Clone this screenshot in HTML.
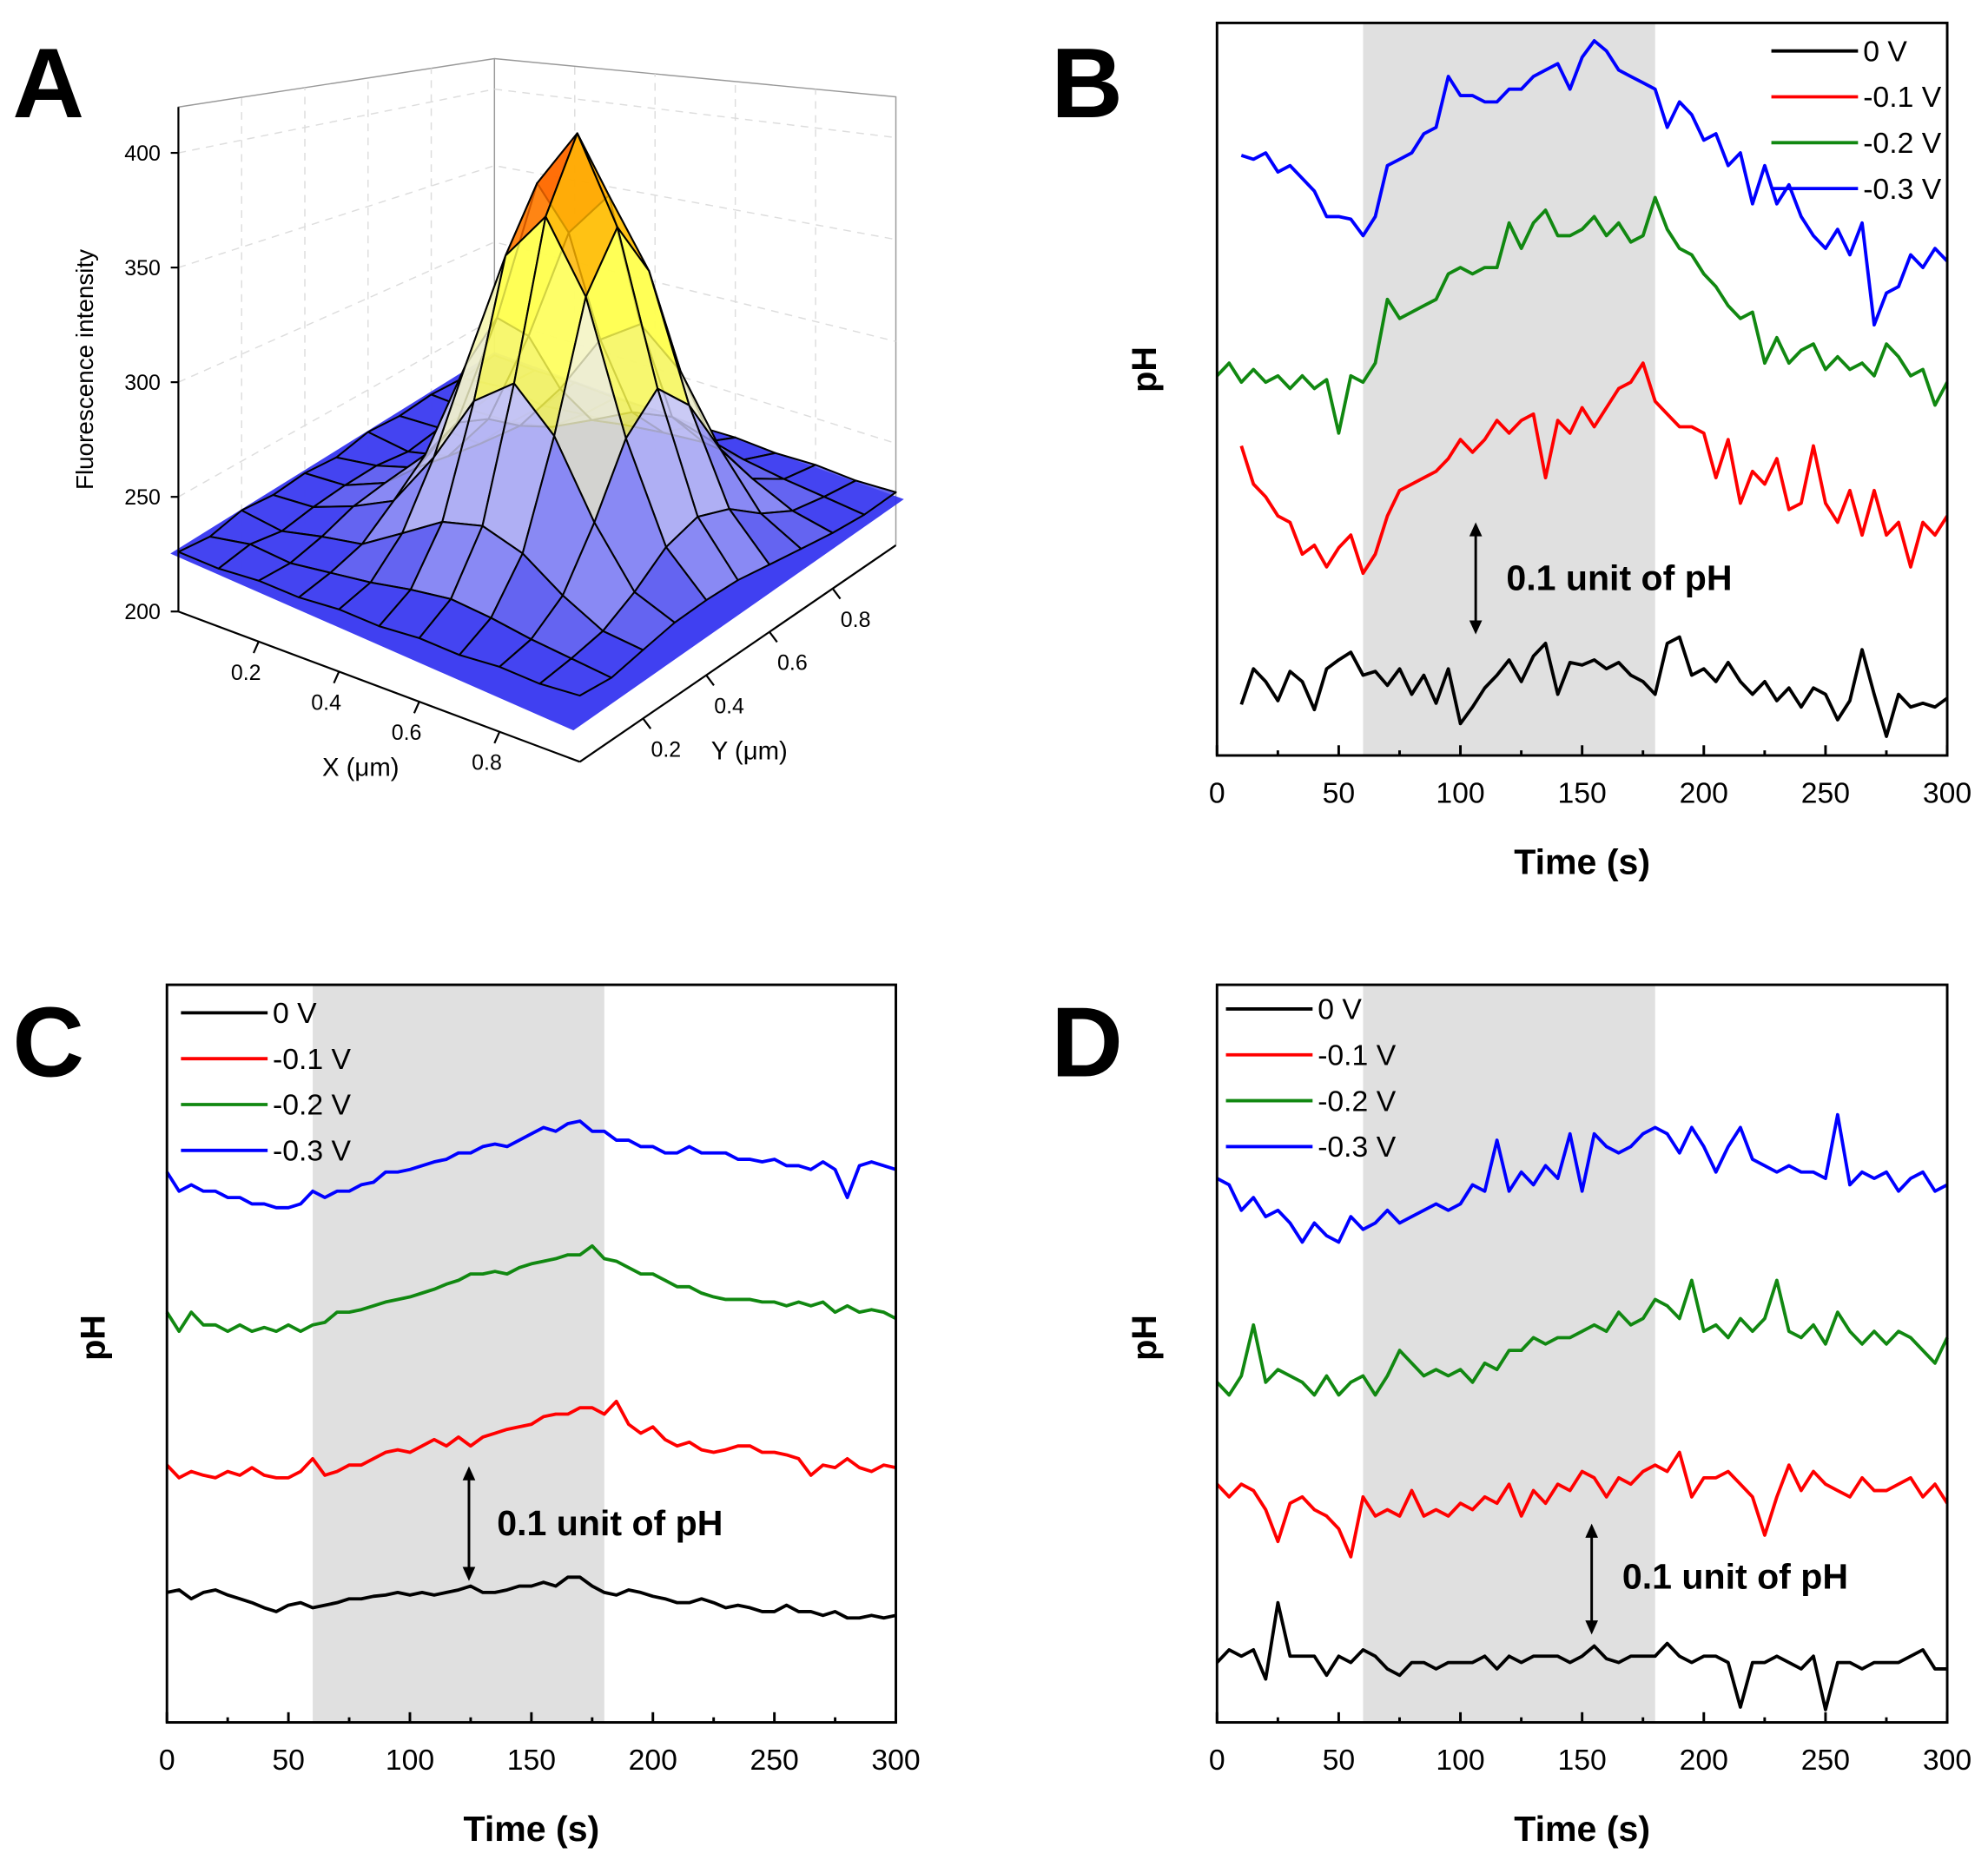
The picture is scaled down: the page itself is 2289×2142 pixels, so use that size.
<!DOCTYPE html>
<html><head><meta charset="utf-8"><style>
html,body{margin:0;padding:0;background:#fff}
svg{display:block}
text{font-family:"Liberation Sans",Arial,sans-serif}
</style></head><body>
<svg id="fig" xmlns="http://www.w3.org/2000/svg" width="2289" height="2142" viewBox="0 0 1560 1460" preserveAspectRatio="none">
<rect width="1560" height="1460" fill="#fff"/>
<text x="38" y="92" font-size="78" font-weight="bold" text-anchor="middle">A</text>
<text x="853" y="92" font-size="78" font-weight="bold" text-anchor="middle">B</text>
<text x="38" y="845" font-size="78" font-weight="bold" text-anchor="middle">C</text>
<text x="853" y="845" font-size="78" font-weight="bold" text-anchor="middle">D</text>
<g id="pA"></g>
<g id="pB"></g>
<g id="pC"></g>
<g id="pD"></g>
</svg>
<script>
// ---------- Panel data (time step 5 s, values = relative pH signal, arbitrary units) ----------
const xTicks = [0,50,100,150,200,250,300];
const seriesNames = ['0 V','-0.1 V','-0.2 V','-0.3 V'];
const seriesColors = ['#000000','#ff0000','#118811','#0000ff'];

const bStart = [10,10,0,10];
const bBlack = [40,68,58,43,66,58,36,68,75,81,63,66,55,68,48,63,41,68,25,38,53,63,75,58,78,88,48,73,71,75,68,73,63,58,48,88,93,63,68,58,73,58,48,58,43,53,38,53,48,28,43,83,48,15,48,38,41,38,45];
const bRed = [243,213,203,188,183,158,165,148,163,173,143,158,188,208,213,218,223,233,248,238,248,263,253,263,268,218,263,253,273,258,273,288,293,308,278,268,258,258,253,218,248,198,223,213,233,193,198,243,198,183,208,173,208,173,183,148,183,173,188];
const bGreen = [298,308,293,303,293,298,288,298,288,295,253,298,293,308,358,343,348,353,358,378,383,378,383,383,418,398,418,428,408,408,413,423,408,418,403,408,438,413,398,393,378,368,353,343,348,308,328,308,318,323,303,313,303,308,298,323,313,298,303,275,293];
const bBlue = [471,468,473,458,463,453,443,423,423,421,408,423,463,468,473,488,493,533,518,518,513,513,523,523,533,538,543,523,548,561,553,538,533,528,523,493,513,503,483,488,463,473,433,463,433,448,423,408,398,413,393,418,338,363,368,393,383,398,388];

const cStart = [0,0,0,0];
const cBlack = [102,104,97,102,104,100,97,94,90,87,92,94,90,92,94,97,97,99,100,102,100,102,100,102,104,107,102,102,104,107,107,110,107,114,114,107,102,100,104,102,99,97,94,94,97,94,90,92,90,87,87,92,87,87,84,87,82,82,84,82,84];
const cRed = [202,192,197,194,192,197,194,200,194,192,192,197,207,194,197,202,202,207,212,214,212,217,222,217,224,217,224,227,230,232,234,240,242,242,247,247,242,252,234,227,232,222,217,220,214,212,214,217,217,212,212,210,207,194,202,200,207,200,197,202,200];
const cGreen = [322,307,322,312,312,307,312,307,310,307,312,307,312,314,322,322,324,327,330,332,334,337,340,344,347,352,352,354,352,357,360,362,364,367,367,374,364,362,357,352,352,347,342,342,337,334,332,332,332,330,330,327,330,327,330,322,327,322,324,322,317];
const cBlue = [432,417,422,417,417,412,412,407,407,404,404,407,417,412,417,417,422,424,432,432,434,437,440,442,447,447,452,454,452,457,462,467,464,470,472,464,464,457,457,452,452,447,447,452,447,447,447,442,442,440,442,437,437,434,440,434,412,437,440,437,434];

const dStart = [0,0,0,0];
const dBlack = [47,57,52,57,34,94,52,52,52,37,52,47,57,52,42,37,47,47,42,47,47,47,52,42,52,47,52,52,52,47,52,60,50,47,52,52,52,62,52,47,52,52,47,12,47,47,52,47,42,52,10,47,47,42,47,47,47,52,57,42,42];
const dRed = [187,177,187,182,167,142,172,177,167,162,152,130,177,162,167,162,182,162,167,162,172,167,177,172,187,162,182,172,187,182,197,192,177,192,187,197,202,197,212,177,192,192,197,187,177,147,177,202,182,197,187,182,177,192,182,182,187,192,177,187,172];
const dGreen = [267,257,272,312,267,277,272,267,257,272,257,267,272,257,272,292,282,272,277,272,277,267,282,277,292,292,302,297,302,302,307,312,307,322,312,317,332,327,317,347,307,312,302,317,307,317,347,307,302,312,297,322,307,297,307,297,307,302,292,282,302];
const dBlue = [427,422,402,412,397,402,392,377,392,382,377,397,387,392,402,392,397,402,407,402,407,422,417,457,417,432,422,437,427,462,417,462,452,447,452,462,467,462,447,467,452,432,452,467,442,437,432,437,432,432,427,477,422,432,427,432,417,427,432,417,422];

// Surface grid (rows = X 0..1, cols = Y 0..1), fluorescence intensity
const surfZ = [
 [226,224,227,225,226,224,227,225,226,224,226],
 [225,227,224,226,227,227,224,226,225,227,225],
 [226,225,228,233,235,233,229,225,226,224,226],
 [225,227,231,242,255,262,255,242,231,227,225],
 [226,229,242,268,303,319,303,268,242,229,226],
 [225,232,253,299,359,388,359,299,253,232,225],
 [226,234,257,312,381,415,381,312,257,234,226],
 [225,232,251,294,349,375,349,294,251,232,225],
 [226,229,239,262,291,306,291,262,239,229,226],
 [225,227,230,238,249,254,249,238,230,227,225],
 [226,225,228,231,232,232,230,228,226,225,226]];
const zTicks = [200,250,300,350,400];
const xyTicks = [0.2,0.4,0.6,0.8];

const NS='http://www.w3.org/2000/svg';
function mk(parent,tag,attrs,txt){const e=document.createElementNS(NS,tag);for(const k in attrs)e.setAttribute(k,attrs[k]);if(txt!==undefined)e.textContent=txt;parent.appendChild(e);return e;}

function drawPanel(gid, box, shade, starts, data, legend, arrow, labelPos){
  const g=document.getElementById(gid);
  const xS=t=>box.x0+(t-0)/(300-0)*(box.x1-box.x0);
  const yS=v=>box.y1-v/box.vmax*(box.y1-box.y0);
  const sh=mk(g,'rect',{x:xS(60),y:box.y0,width:xS(180)-xS(60),height:box.y1-box.y0,fill:'#e0e0e0'});
  
  
  data.forEach((arr,k)=>{
    const pts=arr.map((v,i)=>xS(starts[k]+i*5).toFixed(1)+','+yS(v).toFixed(1)).join(' ');
    const pl=mk(g,'polyline',{points:pts,fill:'none',stroke:seriesColors[k],'stroke-width':2.6,'stroke-linejoin':'round'});
    
    
  });
  const fr=mk(g,'rect',{x:box.x0,y:box.y0,width:box.x1-box.x0,height:box.y1-box.y0,fill:'none',stroke:'#000','stroke-width':2});
  
  
  for(let t=0;t<=300;t+=25){
    const len=t%50===0?8:4;
    mk(g,'line',{x1:xS(t),x2:xS(t),y1:box.y1,y2:box.y1-len,stroke:'#000','stroke-width':2});
  }
  xTicks.forEach(t=>{
    const tx=mk(g,'text',{x:xS(t),y:box.y1+37,'font-size':23,'text-anchor':'middle'},String(t));
    
    
  });
  const xt=mk(g,'text',{x:(box.x0+box.x1)/2,y:box.y1+93,'font-size':28,'font-weight':'bold','text-anchor':'middle'},'Time (s)');
  
  
  const yt=mk(g,'text',{x:0,y:0,'font-size':27,'font-weight':'bold','text-anchor':'middle',transform:`translate(${labelPos[0]},${labelPos[1]}) rotate(-90)`},'pH');
  
  
  seriesNames.forEach((n,k)=>{
    const ly=legend.y+k*legend.dy;
    const le=mk(g,'line',{x1:legend.x,x2:legend.x+68,y1:ly,y2:ly,stroke:seriesColors[k],'stroke-width':2.6});
    
    
    const lt=mk(g,'text',{x:legend.x+72,y:ly+8,'font-size':23},n);
    
    
  });
  const ag=mk(g,'g',{});
  
  
  mk(ag,'line',{x1:arrow.x,x2:arrow.x,y1:arrow.y0+6,y2:arrow.y1-6,stroke:'#000','stroke-width':2});
  mk(ag,'path',{d:`M${arrow.x-5},${arrow.y0+11} L${arrow.x},${arrow.y0} L${arrow.x+5},${arrow.y0+11}Z M${arrow.x-5},${arrow.y1-11} L${arrow.x},${arrow.y1} L${arrow.x+5},${arrow.y1-11}Z`,fill:'#000'});
  const at=mk(g,'text',{x:arrow.tx,y:arrow.ty,'font-size':28,'font-weight':'bold'},'0.1 unit of pH');
  
  
}

drawPanel('pB',{x0:955,x1:1528,y0:18,y1:593,vmax:575},null,bStart,[bBlack,bRed,bGreen,bBlue],
  {x:1390,y:40,dy:36},{x:1158,y0:410,y1:498,tx:1182,ty:463},[907,290]);
drawPanel('pC',{x0:131,x1:703,y0:773,y1:1352,vmax:579},null,cStart,[cBlack,cRed,cGreen,cBlue],
  {x:142,y:795,dy:36},{x:368,y0:1151,y1:1241,tx:390,ty:1205},[82,1050]);
drawPanel('pD',{x0:955,x1:1528,y0:773,y1:1352,vmax:579},null,dStart,[dBlack,dRed,dGreen,dBlue],
  {x:962,y:792,dy:36},{x:1249,y0:1196,y1:1283,tx:1273,ty:1247},[907,1050]);

// ---------- Panel A: 3D surface ----------
(function(){
  const g=document.getElementById('pA');
  const L=[140,480],F=[455,598],R=[703,428];
  function zs(X,Y){return 1.8+0.2*X-0.6*Y+0.2*X*Y;}
  function P(X,Y,z){return [L[0]+X*(F[0]-L[0])+Y*(R[0]-F[0]), L[1]+X*(F[1]-L[1])+Y*(R[1]-F[1])-(z-200)*zs(X,Y)];}
  const zTop=420;
  const box=mk(g,'g',{stroke:'#bbb','stroke-width':1,fill:'none'});
  
  
  const c=(X,Y,z)=>P(X,Y,z).map(v=>v.toFixed(1)).join(',');
  mk(box,'polyline',{points:[c(0,0,200),c(0,0,zTop),c(0,1,zTop),c(1,1,zTop),c(1,1,200)].join(' '),stroke:'#999'});
  mk(box,'line',{x1:P(0,1,200)[0],y1:P(0,1,200)[1],x2:P(0,1,zTop)[0],y2:P(0,1,zTop)[1],stroke:'#999'});
  zTicks.forEach(z=>{ if(z>200){mk(box,'polyline',{points:[c(0,0,z),c(0,1,z),c(1,1,z)].join(' '),'stroke-dasharray':'6,5',stroke:'#ddd'});}});
  [0.2,0.4,0.6,0.8].forEach(v=>{
    mk(box,'line',{x1:P(v,1,200)[0],y1:P(v,1,200)[1],x2:P(v,1,zTop)[0],y2:P(v,1,zTop)[1],'stroke-dasharray':'6,5',stroke:'#ddd'});
    mk(box,'line',{x1:P(0,v,200)[0],y1:P(0,v,200)[1],x2:P(0,v,zTop)[0],y2:P(0,v,zTop)[1],'stroke-dasharray':'6,5',stroke:'#ddd'});
  });
  const n=surfZ.length-1;
  const faces=[];
  for(let i=0;i<n;i++)for(let j=0;j<n;j++){
    const zz=[surfZ[i][j],surfZ[i+1][j],surfZ[i+1][j+1],surfZ[i][j+1]];
    const za=(zz[0]+zz[1]+zz[2]+zz[3])/4;
    faces.push({i,j,za,depth:(i-j)});
  }
  faces.sort((a,b)=>a.depth-b.depth);
  const fl=mk(g,'polygon',{points:[c(-0.02,0,224),c(1,-0.02,214),c(1.02,1,224),c(0,1,228)].join(' '),fill:'#2b2bf0',opacity:0.9});
  
  
  faces.forEach(f=>{
    const {i,j,za}=f;
    const pts=[c(i/n,j/n,surfZ[i][j]),c((i+1)/n,j/n,surfZ[i+1][j]),c((i+1)/n,(j+1)/n,surfZ[i+1][j+1]),c(i/n,(j+1)/n,surfZ[i][j+1])].join(' ');
    let col='#4646f0';
    if(za>385)col='#ff6a00';else if(za>355)col='#ffb400';else if(za>325)col='#ffff50';else if(za>295)col='#f4f4c8';else if(za>265)col='#c8c8f4';else if(za>240)col='#9a9af4';else if(za>230)col='#6c6cf0';
    const p=mk(g,'polygon',{points:pts,fill:col,'fill-opacity':0.82,stroke:'#000','stroke-width':1.4,'stroke-linejoin':'round'});
    
    
  });
  const za0=P(0,0,200),za1=P(0,0,zTop);
  mk(g,'line',{x1:za0[0],y1:za0[1],x2:za1[0],y2:za1[1],stroke:'#000','stroke-width':1.5});
  zTicks.forEach(z=>{
    const p=P(0,0,z);
    mk(g,'line',{x1:p[0]-6,y1:p[1],x2:p[0],y2:p[1],stroke:'#000','stroke-width':1.5});
    const t=mk(g,'text',{x:p[0]-14,y:p[1]+6,'font-size':17,'text-anchor':'end'},String(z));
    
    
  });
  mk(g,'line',{x1:P(0,0,200)[0],y1:P(0,0,200)[1],x2:P(1,0,200)[0],y2:P(1,0,200)[1],stroke:'#000','stroke-width':1.5});
  mk(g,'line',{x1:P(1,0,200)[0],y1:P(1,0,200)[1],x2:P(1,1,200)[0],y2:P(1,1,200)[1],stroke:'#000','stroke-width':1.5});
  xyTicks.forEach(v=>{
    const p=P(v,0,200);
    mk(g,'line',{x1:p[0],y1:p[1],x2:p[0]-4,y2:p[1]+9,stroke:'#000','stroke-width':1.5});
    const t=mk(g,'text',{x:p[0]-10,y:p[1]+30,'font-size':17,'text-anchor':'middle'},String(v));
    
    
    const q=P(1,v,200);
    mk(g,'line',{x1:q[0],y1:q[1],x2:q[0]+6,y2:q[1]+8,stroke:'#000','stroke-width':1.5});
    const t2=mk(g,'text',{x:q[0]+18,y:q[1]+30,'font-size':17,'text-anchor':'middle'},String(v));
    
    
  });
  const t1=mk(g,'text',{x:0,y:0,'font-size':19,'text-anchor':'middle',transform:'translate(73,290) rotate(-90)'},'Fluorescence intensity');
  
  
  const t2=mk(g,'text',{x:283,y:609,'font-size':20,'text-anchor':'middle'},'X (\u03bcm)');
  
  
  const t3=mk(g,'text',{x:588,y:596,'font-size':20,'text-anchor':'middle'},'Y (\u03bcm)');
  
  
})();
</script>
</body></html>
